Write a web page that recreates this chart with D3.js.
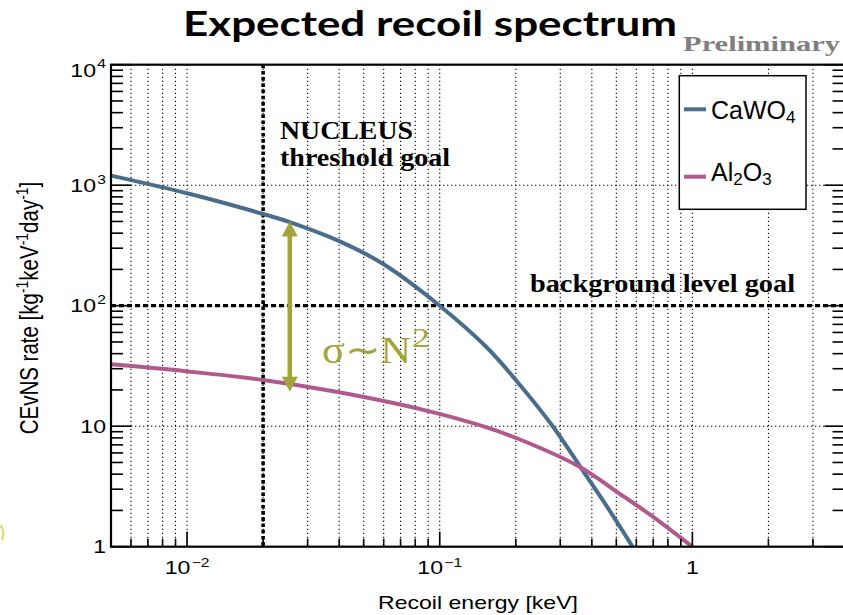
<!DOCTYPE html>
<html><head><meta charset="utf-8">
<script src="https://cdn.jsdelivr.net/npm/d3@7"></script>
<style>body{margin:0;background:#fff}svg{display:block}</style>
</head><body><svg id="c" width="843" height="615"></svg>
<script>
// ---- data ----
const energyCaWO4 = [0.005, 0.01, 0.02, 0.0255, 0.04, 0.06, 0.1, 0.153, 0.2, 0.28, 0.36, 0.46, 0.58];
const rateCaWO4   = [1200, 857, 577, 493, 343, 221, 100, 45.4, 24.2, 10, 4.6, 2.14, 1.0];
const energyAl2O3 = [0.005, 0.01, 0.02, 0.039, 0.087, 0.148, 0.21, 0.353, 0.536, 0.71, 1.0];
const rateAl2O3   = [32.6, 28.5, 24.2, 19.3, 13.6, 10, 7.68, 4.67, 2.6, 1.73, 1.0];
const xDomain = [0.005, 4];
const yDomain = [1, 10000];
const thresholdEnergy = 0.02;
const backgroundLevel = 100;
const arrowEnergy = 0.0255, arrowTop = 500, arrowBottom = 19.3;
const xTickLabels = [{v:0.01, b:"10", e:"\u22122"}, {v:0.1, b:"10", e:"\u22121"}, {v:1, b:"1", e:""}];
const yTickLabels = [{v:1, b:"1", e:""}, {v:10, b:"10", e:""}, {v:100, b:"10", e:"2"}, {v:1000, b:"10", e:"3"}, {v:10000, b:"10", e:"4"}];

const C_BLUE = "#4a6d8c", C_PINK = "#b0598e", C_OLIVE = "#a2a53a";
const SANS = "'Liberation Sans', Arial, Helvetica, sans-serif";
const SERIF = "'Liberation Serif', 'Times New Roman', serif";

const svg = d3.select("#c");
svg.append("rect").attr("width", 843).attr("height", 615).attr("fill", "#fff");

const L = 111, R = 844.5, T = 64.7, B = 546.7;
const x = d3.scaleLog().domain(xDomain).range([L, R]);
const y = d3.scaleLog().domain(yDomain).range([B, T]);
const isMajor = v => Math.abs(Math.log10(v) - Math.round(Math.log10(v))) < 1e-9;

// grid
const grid = svg.append("g").attr("stroke", "#000").attr("stroke-width", 1.1).attr("stroke-dasharray", "1.3,2.7");
x.ticks().filter(v => v > xDomain[0]*1.0001 && v < xDomain[1]*0.9999).forEach(v => {
  grid.append("line").attr("x1", x(v)).attr("x2", x(v)).attr("y1", T).attr("y2", B);
});
[10, 100, 1000].forEach(v => {
  grid.append("line").attr("x1", L).attr("x2", R).attr("y1", y(v)).attr("y2", y(v));
});

// threshold & background lines
svg.append("line").attr("x1", x(thresholdEnergy)).attr("x2", x(thresholdEnergy)).attr("y1", T).attr("y2", B)
  .attr("stroke", "#000").attr("stroke-width", 3.6).attr("stroke-dasharray", "3.6,2.6");
svg.append("line").attr("x1", L).attr("x2", R).attr("y1", y(backgroundLevel)).attr("y2", y(backgroundLevel))
  .attr("stroke", "#000").attr("stroke-width", 3.2).attr("stroke-dasharray", "5,3");

// curves
const line = d3.line().x(d => x(d[0])).y(d => y(d[1])).curve(d3.curveCatmullRom.alpha(0.5));
svg.append("path").attr("d", line(d3.zip(energyCaWO4, rateCaWO4))).attr("fill", "none")
  .attr("stroke", C_BLUE).attr("stroke-width", 4);
svg.append("path").attr("d", line(d3.zip(energyAl2O3, rateAl2O3))).attr("fill", "none")
  .attr("stroke", C_PINK).attr("stroke-width", 4);

// arrow
const ax = x(arrowEnergy), at = y(arrowTop), ab = y(arrowBottom);
svg.append("line").attr("x1", ax).attr("x2", ax).attr("y1", at + 12).attr("y2", ab - 12)
  .attr("stroke", C_OLIVE).attr("stroke-width", 4.5);
svg.append("path").attr("d", `M${ax},${at} L${ax-8},${at+15} L${ax+8},${at+15} Z`).attr("fill", C_OLIVE);
svg.append("path").attr("d", `M${ax},${ab} L${ax-8},${ab-15} L${ax+8},${ab-15} Z`).attr("fill", C_OLIVE);

// annotations
function plain(xp, yp, s, size, len, fam, weight, fill) {
  return svg.append("text").attr("x", xp).attr("y", yp).text(s)
    .attr("font-family", fam).attr("font-weight", weight).attr("font-size", size)
    .attr("fill", fill || "#000").attr("textLength", len).attr("lengthAdjust", "spacingAndGlyphs");
}
plain(280, 139.3, "NUCLEUS", 25, 133, SERIF, "bold");
plain(280, 165.5, "threshold goal", 25, 170, SERIF, "bold");
plain(530, 291.5, "background level goal", 25, 265, SERIF, "bold");
plain(322, 363, "\u03c3\u223cN", 38, 89, SERIF, "normal", C_OLIVE);
plain(412, 346.7, "2", 27, 18, SERIF, "normal", C_OLIVE);

// title
plain(183, 36, "Expected recoil spectrum", 34, 494, "Lato, 'Open Sans', sans-serif", "bold");
plain(683, 51, "Preliminary", 22, 157, SERIF, "bold", "#7f7f7f");

// stray mark at left
svg.append("path").attr("d", "M0.5,525 Q5,531 2,540").attr("fill", "none").attr("stroke", "#dedd7c").attr("stroke-width", 2.5);

// frame & ticks
const ax_g = svg.append("g").attr("stroke", "#000").attr("stroke-width", 1.6);
x.ticks().forEach(v => {
  const len = isMajor(v) ? 15 : 8;
  ax_g.append("line").attr("x1", x(v)).attr("x2", x(v)).attr("y1", B).attr("y2", B - len);
});
y.ticks().forEach(v => {
  const len = isMajor(v) ? 20 : 12;
  ax_g.append("line").attr("x1", L).attr("x2", L + len).attr("y1", y(v)).attr("y2", y(v));
  ax_g.append("line").attr("x1", R).attr("x2", R - len).attr("y1", y(v)).attr("y2", y(v));
});
svg.append("rect").attr("x", L).attr("y", T).attr("width", R - L).attr("height", B - T)
  .attr("fill", "none").attr("stroke", "#000").attr("stroke-width", 2.2);

// tick labels
function stretched(xp, yp, sx, anchor, size) {
  return svg.append("text").attr("transform", `translate(${xp},${yp}) scale(${sx},1)`)
    .attr("text-anchor", anchor).attr("font-family", SANS).attr("font-size", size).attr("fill", "#000");
}
xTickLabels.forEach(d => {
  const t = stretched(x(d.v), 574, 1.25, "middle", 18.5);
  t.append("tspan").text(d.b);
  if (d.e) t.append("tspan").attr("font-size", 12.5).attr("dy", -7.5).attr("dx", 1).text(d.e);
});
yTickLabels.forEach(d => {
  const yy = y(d.v) + (d.v === yDomain[1] ? 12 : 6.7);
  const t = stretched(106, yy, 1.25, "end", 18.5);
  t.append("tspan").text(d.b);
  if (d.e) t.append("tspan").attr("font-size", 12.5).attr("dy", -8.4).attr("dx", 1).text(d.e);
});

// axis titles
stretched(478, 609, 1.24, "middle", 18.6).text("Recoil energy [keV]");
const yt = svg.append("text").attr("transform", "translate(38,308) scale(1.24,1) rotate(-90)")
  .attr("text-anchor", "middle").attr("font-family", SANS).attr("font-size", 20.5);
[["CEvNS rate [kg", 0], ["-1", 1], ["keV", 0], ["-1", 1], ["day", 0], ["-1", 1], ["]", 0]].forEach(([s, sup], i, arr) => {
  const prevSup = i > 0 && arr[i-1][1];
  const ts = yt.append("tspan").text(s);
  if (sup) ts.attr("font-size", 14).attr("dy", -8);
  else if (prevSup) ts.attr("dy", 8);
});

// legend
svg.append("rect").attr("x", 679.3).attr("y", 75.7).attr("width", 126.7).attr("height", 133.6)
  .attr("fill", "#fff").attr("stroke", "#000").attr("stroke-width", 1.5);
const legendItems = [
  {color: C_BLUE, y: 109.3, parts: [["CaWO", 0], ["4", 1]], base: 119.3},
  {color: C_PINK, y: 176.7, parts: [["Al", 0], ["2", 1], ["O", 0], ["3", 1]], base: 180.5}
];
legendItems.forEach(it => {
  svg.append("line").attr("x1", 684).attr("x2", 706).attr("y1", it.y).attr("y2", it.y)
    .attr("stroke", it.color).attr("stroke-width", 4);
  const t = svg.append("text").attr("x", 711).attr("y", it.base).attr("font-family", SANS).attr("font-size", 25);
  it.parts.forEach(([s, sub], i, arr) => {
    const ts = t.append("tspan").text(s);
    if (sub) ts.attr("font-size", 17).attr("dy", 4);
    else if (i > 0 && arr[i-1][1]) ts.attr("dy", -4);
  });
});
</script></body></html>
